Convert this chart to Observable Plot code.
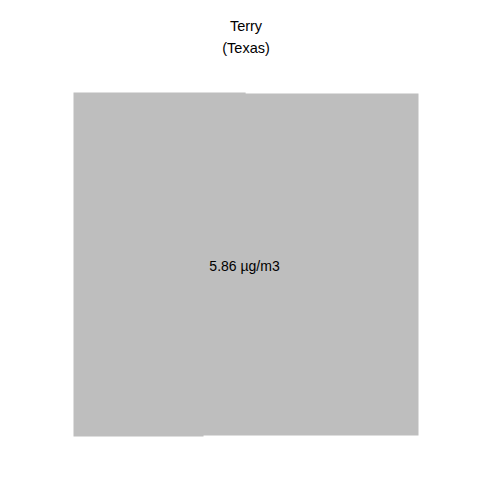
<!DOCTYPE html>
<html>
<head>
<meta charset="utf-8">
<script src="https://cdn.jsdelivr.net/npm/d3@7"></script>
<script src="https://cdn.jsdelivr.net/npm/@observablehq/plot@0.6"></script>
<style>
  body { margin: 0; background: white; }
</style>
</head>
<body>
<div id="chart"></div>
<script>
// county outline (lon / lat), clockwise from the north-west corner
const lon = [-102.595, -102.3356, -102.3356, -102.075, -102.075, -102.399, -102.399, -102.595]
const lat = [33.39, 33.39, 33.3888, 33.3888, 32.9613, 32.9613, 32.96, 32.96]
const county = 'Terry'
const state = '(Texas)'
const value = 5.86
const unit = 'µg/m3'

const outline = lon.map((d, i) => ({lon: d, lat: lat[i]}))

let chart = Plot.plot({
  width: 491,
  height: 488,
  marginLeft: 73,
  marginRight: 73,
  marginTop: 92,
  marginBottom: 52,
  x: {domain: [-102.595, -102.075], axis: null},
  y: {domain: [32.96, 33.39], axis: null},
  style: {fontFamily: '"Liberation Sans", Arial, sans-serif', fontSize: 14, background: 'white'},
  marks: [
    Plot.line(outline, {x: 'lon', y: 'lat', fill: '#bebebe', stroke: null, curve: 'linear-closed'}),
    Plot.text([`${value} ${unit}`], {frameAnchor: 'middle', dx: -1.5, dy: 2, fontSize: 14, fill: 'black'}),
    Plot.text([county], {frameAnchor: 'top', dy: -72, fontSize: 14.5, fill: 'black'}),
    Plot.text([state], {frameAnchor: 'top', dy: -50, fontSize: 14.5, fill: 'black'}),
  ]
})
d3.select('#chart').append(() => chart)
</script>
</body>
</html>
